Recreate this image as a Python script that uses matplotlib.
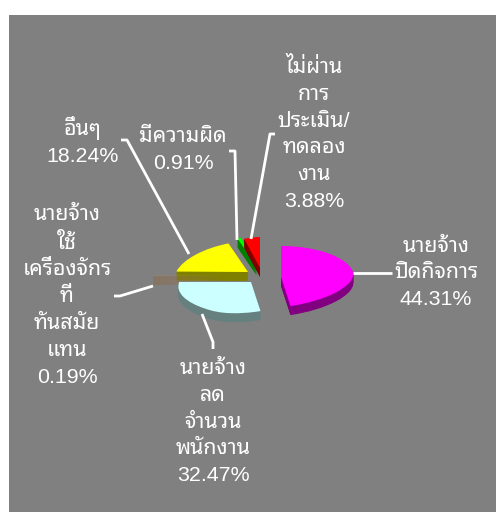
import matplotlib
matplotlib.use('Agg')
import matplotlib.pyplot as plt
import numpy as np
from matplotlib.patches import PathPatch
from matplotlib.path import Path

plt.rcParams['font.family'] = ['Liberation Sans', 'Noto Sans Thai Looped']

# pie values, clockwise from 12 o'clock
labels = ['นายจ้าง\nปิดกิจการ\n44.31%',
          'นายจ้าง\nลด\nจำนวน\nพนักงาน\n32.47%',
          'นายจ้าง\nใช้\nเครื่องจักร\nที่\nทันสมัย\nแทน\n0.19%',
          'อื่นๆ\n18.24%',
          'มีความผิด\n0.91%',
          'ไม่ผ่าน\nการ\nประเมิน/\nทดลอง\nงาน\n3.88%']
shares = [44.31, 32.47, 0.19, 18.24, 0.91, 3.88]

# look of each slice
face_colors = ['#FF00FF', '#CCFFFF', '#A98A66', '#FFFF00', '#00FF00', '#FF0000']
wall_colors = ['#800080', '#668080', '#8C6E52', '#808000', '#008000', '#800000']
apex_px = [(281, 277), (251, 282), (225, 276), (248, 272), (257, 267), (260, 268)]
draw_order = [3, 2, 1, 0, 4, 5]
label_px = [(436, 273), (213, 422), (67, 296), (83, 141), (183, 150), (314, 134)]
leader_px = [[(353, 273), (392, 273)],
             [(202, 314), (213, 342), (213, 349)],
             [(153, 286), (120, 296), (114, 296)],
             [(189, 254), (127, 140), (121, 140)],
             [(237, 240), (235, 151), (229, 151)],
             [(251, 239), (270, 134), (275, 134)]]

RX, RY, DEPTH = 73, 31, 9


def warp(verts, apex):
    # squash the unit pie into the tilted look of the 3-D chart
    x, y = verts[:, 0].copy(), verts[:, 1].copy()
    y2 = y + 0.11 * np.minimum(x, 0)
    front = x + 0.235 * y * np.clip(x + 0.7, 0, 1)
    back = np.where(x < 0, x * (1 - 0.1 * y), x)
    x2 = np.where(y < 0, front, back)
    return np.column_stack([apex[0] + RX * x2, apex[1] - RY * y2])


fig = plt.figure(figsize=(4.96, 5.12), dpi=100, facecolor='white')
ax = fig.add_axes([0, 0, 1, 1])
wedges, _ = ax.pie(shares, startangle=90, counterclock=False, radius=1)
paths = [w.get_path() for w in wedges]
for w in wedges:
    w.remove()

ax.set_aspect('auto')
ax.set_xlim(0, 496)
ax.set_ylim(512, 0)
ax.set_axis_off()
ax.add_patch(plt.Rectangle((9, 15), 487, 497, facecolor='#808080', edgecolor='none', zorder=0))

z = 1
for i in draw_order:
    verts = warp(paths[i].vertices, apex_px[i])
    for off in np.arange(DEPTH, 0, -0.5):
        wall = Path(verts + [0, off], paths[i].codes)
        ax.add_patch(PathPatch(wall, facecolor=wall_colors[i], edgecolor='none', zorder=z))
    ax.add_patch(PathPatch(Path(verts, paths[i].codes), facecolor=face_colors[i],
                           edgecolor='none', zorder=z + 0.5))
    z += 1

for pts in leader_px:
    xs, ys = zip(*pts)
    ax.plot(xs, ys, color='white', lw=2, solid_capstyle='butt', zorder=20)

for txt, (x, y) in zip(labels, label_px):
    ax.text(x, y, txt, color='white', fontsize=15.4, ha='center', va='center',
            linespacing=1.52, zorder=21)

fig.savefig('out.png', dpi=100)
